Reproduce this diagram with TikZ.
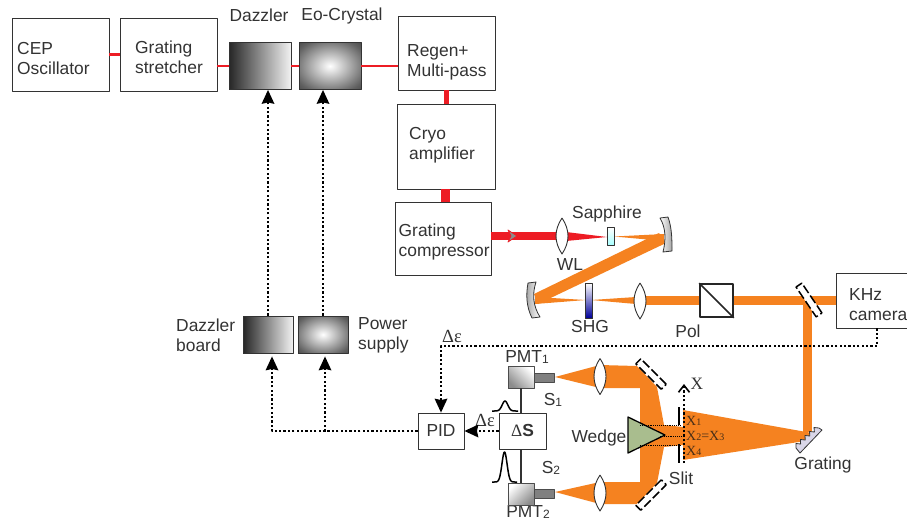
\documentclass[tikz,border=0pt]{standalone}
\usepackage{fontspec}
\setmainfont{Liberation Sans}
\newfontfamily\serifgrk{Liberation Serif}
\usetikzlibrary{arrows.meta}
\definecolor{beamorange}{HTML}{F58220}
\definecolor{beamred}{HTML}{ED1C24}
\definecolor{inkgray}{HTML}{333333}
\definecolor{wedgegreen}{HTML}{A9BD8E}
\definecolor{gratelav}{HTML}{D9D6E8}
\definecolor{slitbrown}{HTML}{4A3018}
\newcommand{\sbs}[1]{\raisebox{-0.1ex}{\fontsize{12}{12}\selectfont #1}}
\newcommand{\sbx}[1]{{\fontsize{10}{10}\selectfont #1}}
\pgfdeclareradialshading{eospot}{\pgfpoint{0bp}{0bp}}{color(0bp)=(white); color(5bp)=(black!10); color(30bp)=(black!62); color(50bp)=(black!90)}
\tikzset{
	every node/.style={font=\fontsize{17.4}{20}\selectfont,text=inkgray,inner sep=0pt},
	boxnode/.style={draw=inkgray,line width=0.9pt,fill=white},
	txtnode/.style={align=left,anchor=west},
	redlink/.style={beamred,line width=#1},
	dotarrow/.style={line width=2pt,black,dash pattern=on 2.2pt off 2.2pt,-{Stealth[length=14pt,width=13pt,inset=1.5pt,line width=0pt]}},
	foldmirror/.style={draw=black,line width=1.5pt,dash pattern=on 9pt off 3pt,fill=white,minimum width=36pt,minimum height=7pt},
	slitlabel/.style={font=\serifgrk\fontsize{14}{14}\selectfont,text=slitbrown,anchor=west},
	lens/.pic={\draw[inkgray,line width=0.9pt,fill=white] (0,-18) .. controls (-8,-6) and (-8,6) .. (0,18) .. controls (8,6) and (8,-6) .. (0,-18);}
}
\begin{document}
\begin{tikzpicture}[x=1pt,y=-1pt,line join=round]
	\useasboundingbox (0,0) rectangle (907,520);
	% laser chain
	\node[boxnode,minimum width=96.5pt,minimum height=73pt] (cep) at (60.75,54.5) {};
	\node[boxnode,minimum width=96.5pt,minimum height=73pt] (stretcher) at (168.75,54.5) {};
	\node[boxnode,left color=black!85,right color=black!5,minimum width=62pt,minimum height=47pt] (dazzler) at (260,66) {};
	\node[boxnode,shade,shading=eospot,minimum width=62pt,minimum height=47pt] (eo) at (330,66) {};
	\node[boxnode,minimum width=97pt,minimum height=74pt] (regen) at (446.5,53) {};
	\node[boxnode,minimum width=98pt,minimum height=85pt] (cryo) at (446,146.5) {};
	\node[boxnode,minimum width=96pt,minimum height=73pt] (compressor) at (443,238.5) {};
	\node[boxnode,minimum width=82pt,minimum height=55pt] (camera) at (877,300.5) {};
	\node[boxnode,left color=black!85,right color=black!5,minimum width=50pt,minimum height=37pt] (dazboard) at (268,334.5) {};
	\node[boxnode,shade,shading=eospot,minimum width=50pt,minimum height=37pt] (supply) at (323,334.5) {};
	\node[boxnode,minimum width=46pt,minimum height=36pt] (pid) at (441,431) {PID};
	\node[boxnode,minimum width=47pt,minimum height=36pt] (ds) at (522.5,431) {{\serifgrk Δ}\textbf{S}};
	% texts
	\node[txtnode] (cept) at (17,59) {CEP\\Oscillator};
	\node[txtnode] (stretchert) at (135,57) {Grating\\stretcher};
	\node[txtnode] (regent) at (407,62) {Regen+\\Multi-pass};
	\node[txtnode] (cryot) at (409,145) {Cryo\\amplifier};
	\node[txtnode] (compressort) at (398.5,242) {Grating\\compressor};
	\node[txtnode] (camerat) at (849,305) {KHz\\camera};
	\node[txtnode] (dazboardt) at (176,335) {Dazzler\\board};
	\node[txtnode] (supplyt) at (358,335) {Power\\supply};
	\node (dazzlert) at (259,15) {Dazzler};
	\node (eot) at (342,16) {Eo-Crystal};
	\node (sapphiret) at (607,214) {Sapphire};
	\node (wlt) at (570,265) {WL};
	\node (shgt) at (590,327) {SHG};
	\node (polt) at (688,331) {Pol};
	\node (gratingt) at (823,465) {Grating};
	\node (slitt) at (681,478) {Slit};
	\node (wedget) at (599,438) {Wedge};
	\node (pmta) at (527,357) {PMT\sbs{1}};
	\node (pmtb) at (528,512) {PMT\sbs{2}};
	\node (sa) at (553,400) {S\sbs{1}};
	\node (sb) at (551,468) {S\sbs{2}};
	\node[font=\serifgrk\fontsize{18.5}{20}\selectfont] (dea) at (452,336) {Δε};
	\node[font=\serifgrk\fontsize{18.5}{20}\selectfont] (deb) at (485,420) {Δε};
	% red links
	\draw[redlink=2.5pt] (cep.east) -- (stretcher.west);
	\draw[redlink=2.5pt] (stretcher.east |- dazzler.west) -- (dazzler.west);
	\draw[redlink=2.5pt] (dazzler.east) -- (eo.west);
	\draw[redlink=2.5pt] (eo.east) -- (eo.east -| regen.west);
	\draw[redlink=5pt] (regen.south) -- (regen.south |- cryo.north);
	\draw[redlink=9pt] ([xshift=2.5pt]compressor.north) -- ([xshift=2.5pt]compressor.north |- cryo.south);
	% beams
	\coordinate (wl) at (562,236);
	\draw[redlink=8.5pt] (compressor.east |- wl) -- (wl);
	\draw[beamred,line width=0.8pt,fill=black!45] (508,230) -- (517,236) -- (508,242) -- (511,236) -- cycle;
	\fill[beamred] (566,232) -- (607,237) -- (566,241) -- cycle;
	\fill[beamorange] (614,236.5) -- (664,234) -- (664,241) -- cycle;
	\fill[beamorange] (659,233) -- (666,243) -- (538,304) -- (534,294) -- cycle;
	\fill[beamorange] (535,297) -- (586,300) -- (535,304) -- cycle;
	\fill[beamorange] (591,300) -- (636,297) -- (636,304) -- cycle;
	\fill[beamorange] (645,296) rectangle (836,305);
	\fill[beamorange] (803,300) rectangle (812,432);
	\fill[beamorange] (683,410) -- (812,433) -- (805,441) -- (683,460) -- cycle;
	\fill[beamorange] (555,377) -- (600,365) -- (637,366) -- (657,387) -- (664,425) -- (683,427) -- (683,445) -- (664,447) -- (657,483) -- (637,504) -- (600,504) -- (555,492) -- (600,482) -- (640,482) -- (640,388) -- (600,388) -- cycle;
	% optics
	\pic at (562,236) {lens};
	\pic at (640,301) {lens};
	\pic at (600,376.5) {lens};
	\pic at (600,493) {lens};
	\node[draw=inkgray,line width=0.8pt,top color=white,bottom color=cyan!35,minimum width=7pt,minimum height=18pt] (sapphire) at (610.5,236.5) {};
	\node[draw=inkgray,line width=0.8pt,top color=white,bottom color=blue!60!black,minimum width=7pt,minimum height=35pt] (shg) at (589,300.5) {};
	\node[boxnode,draw=black!85,line width=1.6pt,minimum width=33pt,minimum height=33pt] (pol) at (716.5,300.5) {};
	\draw[black!85,line width=1.5pt] (pol.north west) -- (pol.south east);
	\draw[inkgray,line width=0.8pt,left color=white,right color=black!35] (660,218) -- (668,217) .. controls (672,228) and (672,240) .. (672,251) -- (663,252) .. controls (666,240) and (666,228) .. cycle;
	\draw[inkgray,line width=0.8pt,left color=black!35,right color=white] (528,283) -- (536,282) .. controls (532,294) and (533,306) .. (540,317) -- (532,318) .. controls (526,306) and (526,294) .. cycle;
	\node[foldmirror,rotate=-45] (folda) at (651,374) {};
	\node[foldmirror,rotate=45] (foldb) at (651,495) {};
	\node[foldmirror,rotate=-56] (foldc) at (809,300) {};
	\draw[inkgray,line width=0.8pt,fill=gratelav] (796,448) -- (796,443.5) -- (800.6,444) -- (800.5,439.5) -- (805.2,440) -- (805,435.5) -- (809.8,436) -- (809.5,431.5) -- (814.4,432) -- (814,427.5) -- (819,428) -- (822,430) -- (800,453) -- cycle;
	\draw[black,line width=1.3pt,fill=wedgegreen] (628,417) -- (665,435) -- (628,453) -- cycle;
	\draw[black,line width=0.9pt,densely dotted] (640,425) -- (680,425) (660,436) -- (684,436) (640,445) -- (680,445);
	\draw[black,line width=2.5pt] (679,407) -- (679,425) (679,444) -- (679,463);
	\coordinate (xtip) at (684,384);
	\draw[black,line width=2pt,dash pattern=on 2.2pt off 2.2pt,-{Straight Barb[length=7pt,width=11pt,line width=1.6pt]}] (684,463) -- (xtip);
	\node[font=\serifgrk\fontsize{17.4}{20}\selectfont] (xt) at (697,384) {X};
	\node[slitlabel] (xa) at (686,421) {X\sbx{1}};
	\node[slitlabel] (xb) at (686,436) {X\sbx{2}=X\sbx{3}};
	\node[slitlabel] (xc) at (686,450.5) {X\sbx{4}};
	% detectors
	\node[boxnode,draw=black!70,left color=white,right color=black!45,shading angle=-45,minimum width=26pt,minimum height=22pt] (pmtx) at (521,377) {};
	\node[boxnode,draw=black!70,left color=white,right color=black!45,shading angle=45,minimum width=26pt,minimum height=22pt] (pmty) at (521,494) {};
	\node[draw=black!70,line width=0.9pt,fill=black!50,minimum width=20pt,minimum height=9pt] (stema) at (544,378) {};
	\node[draw=black!70,line width=0.9pt,fill=black!50,minimum width=20pt,minimum height=9pt] (stemb) at (544,494) {};
	\draw[black!80,line width=1.6pt] (pmtx.south) -- (pmtx.south |- ds.north);
	\draw[black!80,line width=1.6pt] (pmty.north) -- (pmty.north |- ds.south);
	\draw[black,line width=1.5pt,samples=60,domain=492:518,smooth,variable=\x] plot (\x,{411-10*exp(-((\x-505)/4)^2)});
	\draw[black,line width=1.5pt,samples=60,domain=492:517,smooth,variable=\x] plot (\x,{482-30*exp(-((\x-504.5)/3.6)^2)});
	% feedback
	\coordinate (cornerb) at (pid.north |- 0,346);
	\draw[dotarrow] (dazboard.north) -- (dazboard.north |- dazzler.south);
	\draw[dotarrow] (supply.north) -- (supply.north |- eo.south);
	\draw[dotarrow] (camera.south) |- (cornerb) -- (pid.north);
	\draw[dotarrow] (ds.west) -- (pid.east);
	\draw[dotarrow,shorten >=3pt] (pid.west) -| ([xshift=4pt]dazboard.south);
	\draw[dotarrow,shorten >=3pt] (pid.west) -| ([xshift=2pt]supply.south);
\end{tikzpicture}
\end{document}
